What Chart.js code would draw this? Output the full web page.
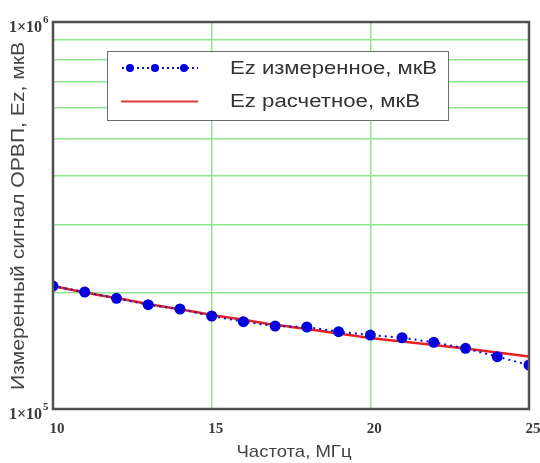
<!DOCTYPE html>
<html><head><meta charset="utf-8">
<script src="https://cdn.jsdelivr.net/npm/chart.js@4/dist/chart.umd.min.js"></script>
<style>html,body{margin:0;padding:0;background:#fff}#w{width:540px;height:463px}</style>
</head><body><div id="w"><canvas id="c"></canvas></div>
<script>
const freqs = [10,11,12,13,14,15,16,17,18,19,20,21,22,23,24,25];
const measured = [2.078e5,2.006e5,1.932e5,1.860e5,1.813e5,1.739e5,1.681e5,1.638e5,1.629e5,1.584e5,1.553e5,1.528e5,1.487e5,1.435e5,1.365e5,1.299e5];
const calculated = [2.08e5,2.0e5,1.935e5,1.867e5,1.81e5,1.75e5,1.70e5,1.65e5,1.61e5,1.567e5,1.526e5,1.494e5,1.463e5,1.433e5,1.399e5,1.367e5];
const yGridValues = [1e5,2e5,3e5,4e5,5e5,6e5,7e5,8e5,9e5,1e6];
const xTickLabels = [10,15,20,25];
const yTickLabels = [{v:1e6, base:'1×10', exp:'6'},{v:1e5, base:'1×10', exp:'5'}];
const seriesNames = ['Ez измеренное, мкВ','Ez расчетное, мкВ'];
const xTitle = 'Частота, МГц';
const yTitle = 'Измеренный сигнал ОРВП, Ez, мкВ';

function fitText(ctx, text, x, y, targetW){
  const w = ctx.measureText(text).width;
  ctx.save();
  ctx.translate(x, y);
  ctx.scale(targetW / w, 1);
  ctx.fillText(text, 0, 0);
  ctx.restore();
}

const frame = {
  id:'frame',
  afterDatasetsDraw(chart){
    const a = chart.chartArea, ctx = chart.ctx;
    ctx.save();
    ctx.strokeStyle = '#505050'; ctx.lineWidth = 2.5;
    ctx.strokeRect(a.left, a.top, a.right-a.left, a.bottom-a.top);
    ctx.restore();
  },
  afterDraw(chart){
    const ctx = chart.ctx, xs = chart.scales.x, ys = chart.scales.y;
    ctx.save();
    ctx.fillStyle = '#3a3a3a';
    // x tick labels
    ctx.font = 'bold 15px "Liberation Serif", serif';
    ctx.textAlign = 'center'; ctx.textBaseline = 'alphabetic';
    xTickLabels.forEach(v => ctx.fillText(String(v), xs.getPixelForValue(v)+4, 433));
    // y tick labels
    yTickLabels.forEach(t => {
      const py = ys.getPixelForValue(t.v);
      ctx.font = 'bold 16px "Liberation Serif", serif';
      ctx.textAlign = 'right';
      ctx.fillText(t.base, 42, py+10);
      ctx.font = 'bold 11px "Liberation Serif", serif';
      ctx.textAlign = 'left';
      ctx.fillText(t.exp, 43, py+1);
    });
    // titles
    ctx.fillStyle = '#444';
    ctx.font = '17px "Liberation Sans", Arial, sans-serif';
    ctx.textAlign = 'center';
    fitText(ctx, xTitle, 294, 457, 115);
    ctx.save();
    ctx.translate(24, 216); ctx.rotate(-Math.PI/2);
    ctx.font = '17.5px "Liberation Sans", Arial, sans-serif';
    fitText(ctx, yTitle, 0, 0, 348);
    ctx.restore();
    // legend
    ctx.fillStyle = '#fff';
    ctx.fillRect(107, 51, 341, 69);
    ctx.strokeStyle = '#6a6a6a'; ctx.lineWidth = 1;
    ctx.strokeRect(107.5, 51.5, 341, 69);
    ctx.strokeStyle = '#1010d8'; ctx.lineWidth = 2; ctx.setLineDash([2,3]);
    ctx.beginPath(); ctx.moveTo(122, 68); ctx.lineTo(198, 68); ctx.stroke();
    ctx.setLineDash([]);
    ctx.fillStyle = '#0000dd';
    [130,155,184].forEach(x => { ctx.beginPath(); ctx.arc(x, 68, 4, 0, Math.PI*2); ctx.fill(); });
    ctx.strokeStyle = '#e03a3a'; ctx.lineWidth = 2;
    ctx.beginPath(); ctx.moveTo(121, 101.5); ctx.lineTo(198, 101.5); ctx.stroke();
    ctx.fillStyle = '#333';
    ctx.font = '18px "Liberation Sans", Arial, sans-serif';
    ctx.textAlign = 'left'; ctx.textBaseline = 'middle';
    fitText(ctx, seriesNames[0], 230, 69, 207);
    fitText(ctx, seriesNames[1], 230, 102, 190);
    ctx.restore();
  }
};

new Chart(document.getElementById('c'), {
  type:'line',
  data:{
    datasets:[
      {label:seriesNames[0], data:freqs.map((f,i)=>({x:f,y:measured[i]})), borderColor:'#1010d8', backgroundColor:'#0000dd',
       borderWidth:2, borderDash:[2,4], pointRadius:5.5, pointHoverRadius:5.5, pointBorderWidth:0, order:0, tension:0, clip:0},
      {label:seriesNames[1], data:freqs.map((f,i)=>({x:f,y:calculated[i]})), borderColor:'#e82020', backgroundColor:'#e82020',
       borderWidth:2.5, pointRadius:0, order:1, tension:0.3, clip:0}
    ]
  },
  options:{
    responsive:true, maintainAspectRatio:false, animation:false,
    layout:{padding:{top:22,right:11,left:0,bottom:0}},
    plugins:{legend:{display:false}, tooltip:{enabled:false}},
    scales:{
      x:{type:'linear', min:10, max:25, ticks:{display:false, stepSize:5},
         grid:{color:'#8ee88e', lineWidth:1.5, drawTicks:false}, border:{display:false},
         afterFit(s){ s.height = 54; }},
      y:{type:'logarithmic', min:1e5, max:1e6, ticks:{display:false},
         afterBuildTicks(s){ s.ticks = yGridValues.map(v=>({value:v})); },
         grid:{color:'#8ee88e', lineWidth:1.5, drawTicks:false}, border:{display:false},
         afterFit(s){ s.width = 53; }}
    }
  },
  plugins:[frame]
});
</script></body></html>
